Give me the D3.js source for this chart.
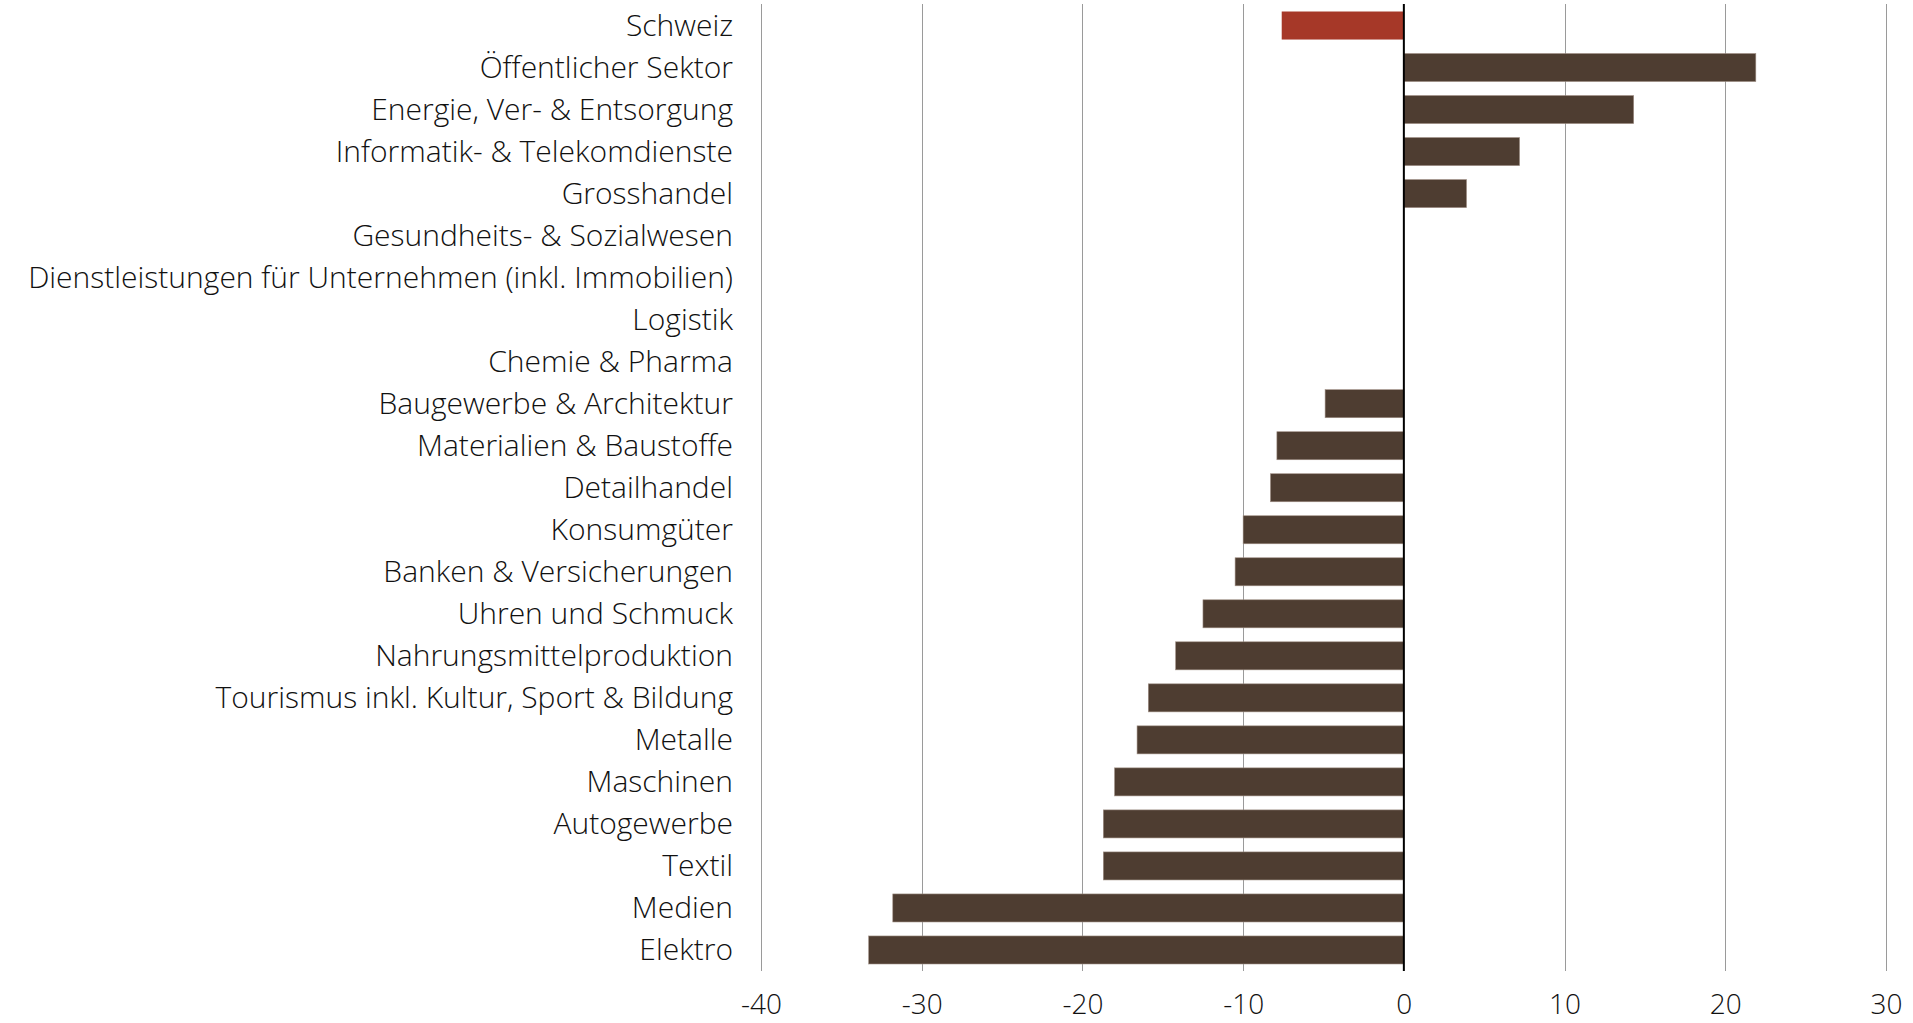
<!DOCTYPE html>
<html>
<head>
<meta charset="utf-8">
<script src="https://cdn.jsdelivr.net/npm/d3@7"></script>
<style>
  html, body { margin: 0; padding: 0; background: #ffffff; }
  svg { display: block; }
  text { font-family: "Open Sans", "Noto Sans", sans-serif; font-weight: 300; fill: #111; font-variant-ligatures: none; }
</style>
</head>
<body>
<svg id="chart" width="1913" height="1023"></svg>
<script>
const categories = [
  "Schweiz",
  "Öffentlicher Sektor",
  "Energie, Ver- & Entsorgung",
  "Informatik- & Telekomdienste",
  "Grosshandel",
  "Gesundheits- & Sozialwesen",
  "Dienstleistungen für Unternehmen (inkl. Immobilien)",
  "Logistik",
  "Chemie & Pharma",
  "Baugewerbe & Architektur",
  "Materialien & Baustoffe",
  "Detailhandel",
  "Konsumgüter",
  "Banken & Versicherungen",
  "Uhren und Schmuck",
  "Nahrungsmittelproduktion",
  "Tourismus inkl. Kultur, Sport & Bildung",
  "Metalle",
  "Maschinen",
  "Autogewerbe",
  "Textil",
  "Medien",
  "Elektro"
];
const values = [
  -7.6, 21.9, 14.3, 7.2, 3.9, 0, 0, 0, 0,
  -4.9, -7.9, -8.3, -10.0, -10.5, -12.5, -14.2,
  -15.9, -16.6, -18.0, -18.7, -18.7, -31.8, -33.3
];
const highlighted = ["Schweiz"];
const tickValues = [-40, -30, -20, -10, 0, 10, 20, 30];

const svg = d3.select("#chart");
const x = d3.scaleLinear().domain([-40, 30]).range([761, 1886]);
const y = d3.scaleBand().domain(categories).range([4.5, 971])
  .paddingInner(0.333).paddingOuter(0.1667);

// gridlines
svg.append("g").selectAll("line")
  .data(tickValues.filter(d => d !== 0))
  .join("line")
  .attr("x1", d => Math.round(x(d)) + 0.5)
  .attr("x2", d => Math.round(x(d)) + 0.5)
  .attr("y1", 4).attr("y2", 971)
  .attr("stroke", "#9a9a9a").attr("stroke-width", 1);

// bars
const data = categories.map((c, i) => ({ c, v: values[i] }));
svg.append("g").selectAll("rect")
  .data(data)
  .join("rect")
  .attr("x", d => x(Math.min(0, d.v)))
  .attr("width", d => Math.abs(x(d.v) - x(0)))
  .attr("y", d => y(d.c))
  .attr("height", y.bandwidth())
  .attr("fill", d => highlighted.includes(d.c) ? "#a63828" : "#4e3d31")
  .attr("stroke", d => d.v === 0 ? "none" : (highlighted.includes(d.c) ? "none" : "#9e8e84"))
  .attr("stroke-width", 0.6);

// zero line
svg.append("line")
  .attr("x1", x(0)).attr("x2", x(0))
  .attr("y1", 4).attr("y2", 971)
  .attr("stroke", "#000").attr("stroke-width", 2);

// category labels
const yAxis = d3.axisLeft(y).tickSize(0).tickPadding(0);
svg.append("g")
  .attr("transform", "translate(733,0)")
  .call(yAxis)
  .call(g => g.select(".domain").remove())
  .selectAll("text")
  .attr("font-size", 30)
  .attr("font-family", "'Open Sans', sans-serif")
  .attr("font-weight", 300)
  .attr("fill", "#111")
  .attr("dy", "0.35em");

// x tick labels
const xAxis = d3.axisBottom(x).tickValues(tickValues).tickSize(0).tickPadding(0)
  .tickFormat(d => String(d));
svg.append("g")
  .attr("transform", "translate(0,1014)")
  .call(xAxis)
  .call(g => g.select(".domain").remove())
  .selectAll("text")
  .attr("font-size", 28)
  .attr("font-family", "'Open Sans', sans-serif")
  .attr("font-weight", 300)
  .attr("fill", "#111")
  .attr("dy", "0")
  .attr("y", 0);
</script>
</body>
</html>
